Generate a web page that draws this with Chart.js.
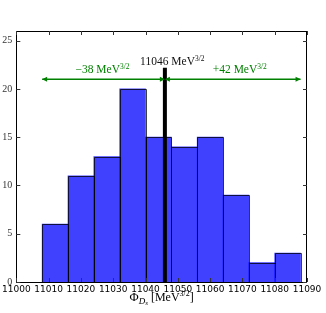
<!DOCTYPE html>
<html>
<head>
<meta charset="utf-8">
<script src="https://cdn.jsdelivr.net/npm/chart.js@4.4.0/dist/chart.umd.min.js"></script>
<style>
body { margin: 0; background: #fff; }
</style>
</head>
<body>
<canvas id="myChart" width="326" height="313"></canvas>
<script>
// histogram: bin centres and counts
var binCenters = [11012, 11020, 11028, 11036, 11044, 11052, 11060, 11068, 11076, 11084];
var counts = [6, 11, 13, 20, 15, 14, 15, 9, 2, 3];

var xTicks = [11000, 11010, 11020, 11030, 11040, 11050, 11060, 11070, 11080, 11090];
var yTicks = [0, 5, 10, 15, 20, 25];

// central value line and the two error arrows
var central = 11046;
var centralTop = 22.2;
var arrowY = 21;
var arrowLeft = [11008, 11046];
var arrowRight = [11046, 11088];
var centralLabel = "11046";
var minusLabel = "\u221238";
var plusLabel = "+42";

var green = "rgb(0,128,0)";
var serif = "'Liberation Serif', serif";

// draw a row of text pieces (for super/subscripts), centred on x
function drawPieces(ctx, pieces, x, y, color) {
  var w = 0;
  pieces.forEach(function (p) {
    ctx.font = (p.italic ? "italic " : "") + p.size + "px " + serif;
    p.w = ctx.measureText(p.t).width;
    w += p.w;
  });
  var cx = x - w / 2;
  ctx.fillStyle = color;
  ctx.textBaseline = "alphabetic";
  ctx.textAlign = "left";
  pieces.forEach(function (p) {
    ctx.font = (p.italic ? "italic " : "") + p.size + "px " + serif;
    ctx.fillText(p.t, cx, y + (p.dy || 0));
    cx += p.w;
  });
}

function mev(num) {
  return [
    { t: num + " MeV", size: 11.5 },
    { t: "3/2", size: 7.5, dy: -4.5 }
  ];
}

var extras = {
  id: "extras",
  // outline the histogram bars right after they are drawn
  afterDatasetDraw: function (chart, args) {
    if (args.index !== 3) return;
    var ctx = chart.ctx;
    ctx.save();
    ctx.strokeStyle = "rgba(0,0,0,0.75)";
    ctx.lineWidth = 1;
    args.meta.data.forEach(function (bar) {
      var l = Math.round(bar.x - bar.width / 2) + 0.5;
      var r = Math.round(bar.x + bar.width / 2) + 0.5;
      var t = Math.round(bar.y) + 0.5;
      var b = Math.round(bar.base) + 0.5;
      ctx.beginPath();
      ctx.moveTo(l, b); ctx.lineTo(l, t); ctx.lineTo(r, t); ctx.lineTo(r, b);
      ctx.stroke();
    });
    ctx.restore();
  },
  afterDatasetsDraw: function (chart) {
    var ctx = chart.ctx;
    var x = chart.scales.x, y = chart.scales.y;
    var a = chart.chartArea;
    ctx.save();

    // arrow heads
    ctx.fillStyle = green;
    var yy = y.getPixelForValue(arrowY);
    [[arrowLeft[0], -1], [arrowLeft[1], 1], [arrowRight[0], -1], [arrowRight[1], 1]].forEach(function (h) {
      var px = x.getPixelForValue(h[0]);
      ctx.beginPath();
      ctx.moveTo(px, yy);
      ctx.lineTo(px - h[1] * 5, yy - 2.5);
      ctx.lineTo(px - h[1] * 5, yy + 2.5);
      ctx.closePath();
      ctx.fill();
    });

    // labels
    drawPieces(ctx, mev(centralLabel), x.getPixelForValue(11048.3), 65, "#111");
    drawPieces(ctx, mev(minusLabel), x.getPixelForValue(11026.7), 73, green);
    drawPieces(ctx, mev(plusLabel), x.getPixelForValue(11069.2), 73, green);

    // frame
    ctx.strokeStyle = "#000";
    ctx.lineWidth = 1;
    ctx.strokeRect(Math.round(a.left) + 0.5, Math.round(a.top) + 0.5,
      Math.round(a.right - a.left) - 1, Math.round(a.bottom - a.top));

    // inward ticks on all sides
    ctx.strokeStyle = "#333";
    ctx.beginPath();
    xTicks.forEach(function (v) {
      var px = Math.round(x.getPixelForValue(v)) + 0.5;
      ctx.moveTo(px, a.bottom); ctx.lineTo(px, a.bottom - 4);
      ctx.moveTo(px, a.top); ctx.lineTo(px, a.top + 4);
    });
    yTicks.forEach(function (v) {
      var py = Math.round(y.getPixelForValue(v)) + 0.5;
      ctx.moveTo(a.left, py); ctx.lineTo(a.left + 4, py);
      ctx.moveTo(a.right, py); ctx.lineTo(a.right - 4, py);
    });
    ctx.stroke();

    // axis title
    drawPieces(ctx, [
      { t: "\u03A6", size: 12.5 },
      { t: "D", size: 9, italic: true, dy: 2.5 },
      { t: "s", size: 7, italic: true, dy: 4 },
      { t: " [MeV", size: 12 },
      { t: "3/2", size: 8, dy: -5 },
      { t: "]", size: 12 }
    ], (a.left + a.right) / 2, 301, "#000");

    ctx.restore();
  }
};

var ctx = document.getElementById("myChart");

var myChart = new Chart(ctx, {
  type: "bar",
  data: {
    datasets: [
      {
        type: "line",
        data: [{ x: central, y: 0 }, { x: central, y: centralTop }],
        borderColor: "#000",
        borderWidth: 4,
        pointRadius: 0,
        order: 0
      },
      {
        type: "line",
        data: [{ x: arrowLeft[0], y: arrowY }, { x: arrowLeft[1], y: arrowY }],
        borderColor: green,
        borderWidth: 1.5,
        pointRadius: 0,
        order: 1
      },
      {
        type: "line",
        data: [{ x: arrowRight[0], y: arrowY }, { x: arrowRight[1], y: arrowY }],
        borderColor: green,
        borderWidth: 1.5,
        pointRadius: 0,
        order: 1
      },
      {
        label: "counts",
        data: binCenters.map(function (c, i) { return { x: c, y: counts[i] }; }),
        backgroundColor: "rgba(0,0,255,0.75)",
        borderWidth: 0,
        barPercentage: 1,
        categoryPercentage: 1,
        order: 2
      }
    ]
  },
  options: {
    responsive: false,
    animation: false,
    layout: { padding: { top: 31, right: 19, left: 0, bottom: 0 } },
    plugins: { legend: { display: false }, tooltip: { enabled: false } },
    scales: {
      x: {
        type: "linear",
        offset: false,
        min: 11000,
        max: 11090,
        afterFit: function (s) { s.height = 31; },
        afterBuildTicks: function (s) { s.ticks = xTicks.map(function (v) { return { value: v }; }); },
        grid: { display: false, drawTicks: false, offset: false },
        border: { display: false },
        ticks: {
          autoSkip: false, maxRotation: 0, minRotation: 0, padding: 2,
          color: "#000",
          font: { family: "'DejaVu Sans'", size: 9 },
          callback: function (v) { return String(v); }
        }
      },
      y: {
        min: 0,
        max: 26,
        afterFit: function (s) { s.width = 16; },
        afterBuildTicks: function (s) { s.ticks = yTicks.map(function (v) { return { value: v }; }); },
        grid: { display: false, drawTicks: false },
        border: { display: false },
        ticks: {
          padding: 4,
          color: "#333",
          font: { family: serif, size: 10 }
        }
      }
    }
  },
  plugins: [extras]
});
</script>
</body>
</html>
